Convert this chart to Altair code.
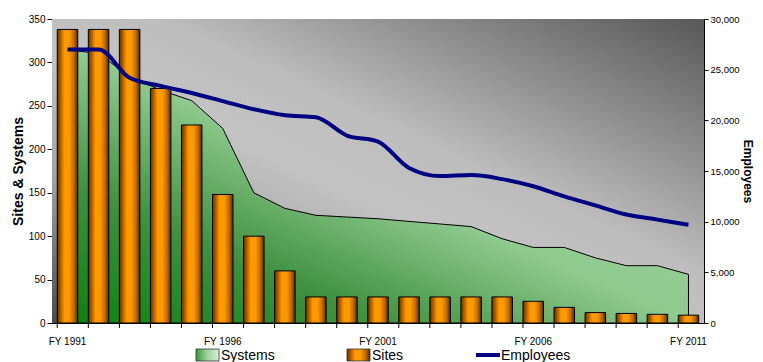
import altair as alt
import pandas as pd

years = ["FY 1991", "FY 1992", "FY 1993", "FY 1994", "FY 1995", "FY 1996", "FY 1997",
         "FY 1998", "FY 1999", "FY 2000", "FY 2001", "FY 2002", "FY 2003", "FY 2004",
         "FY 2005", "FY 2006", "FY 2007", "FY 2008", "FY 2009", "FY 2010", "FY 2011"]
sites = [338, 338, 338, 270, 228, 148, 100, 60, 30, 30, 30, 30, 30, 30, 30, 25, 18, 12, 11, 10, 9]
systems = [315, 310, 284, 268, 256, 224, 150, 132, 124, 122, 120, 117, 114, 111, 97, 87, 87, 75, 66, 66, 56]
employees = [27000, 27000, 24200, 23400, 22700, 21900, 21100, 20500, 20300, 18500, 17900,
             15300, 14500, 14600, 14200, 13500, 12500, 11600, 10700, 10200, 9700]
shown_years = ["FY 1991", "FY 1996", "FY 2001", "FY 2006", "FY 2011"]
left_ticks = [0, 50, 100, 150, 200, 250, 300, 350]
right_ticks = [0, 5000, 10000, 15000, 20000, 25000, 30000]
legend_labels = ["Systems", "Sites", "Employees"]

df = pd.DataFrame({"year": years, "Sites": sites, "Systems": systems, "Employees": employees})
legend_df = pd.DataFrame({"label": legend_labels})

W, H = 652, 304
FONT = "Liberation Sans"


def grad(stops, x1=0, y1=0, x2=1, y2=0):
    return {"gradient": "linear", "x1": x1, "y1": y1, "x2": x2, "y2": y2,
            "stops": [{"offset": o, "color": c} for o, c in stops]}


bg_grad = grad([(0, "#4a4a4a"), (0.25, "#a6a6a6"), (0.45, "#c3c3c3"), (0.58, "#bdbdbd"), (1, "#585858")],
               x1=0, y1=1, x2=1, y2=0)
area_grad = grad([(0, "#0c820c"), (0.25, "#3f903f"), (0.5, "#8ec98e"), (1, "#aadcaa")],
                 x1=0, y1=1, x2=1, y2=0)
bar_grad = grad([(0, "#5e3200"), (0.18, "#b86400"), (0.35, "#ff9900"), (0.58, "#ff9900"),
                 (0.82, "#c06800"), (1, "#4e2800")])
leg_area_grad = grad([(0, "#3c963c"), (0.5, "#9fd49f"), (1, "#d6efd6")])

label_expr = "indexof(" + str(shown_years) + ", datum.value) >= 0 ? datum.value : ''"

x_axis = alt.Axis(title=None, ticks=False, labelExpr=label_expr, labelAngle=0, labelOverlap=False,
                  labelFontSize=10, labelFont=FONT, labelColor="black", labelPadding=13,
                  domainColor="black", grid=False)
x_scale = alt.Scale(paddingInner=0.34, paddingOuter=0.17)
x_enc = alt.X("year:N", sort=years, axis=x_axis, scale=x_scale)

left_axis = alt.Axis(title="Sites & Systems", values=left_ticks, orient="left", grid=True,
                     gridColor="#9a9a9a", gridWidth=1, domainColor="black", tickColor="black",
                     labelFont=FONT, labelFontSize=10, labelColor="black", tickSize=5,
                     titleFont=FONT, titleFontSize=14, titleFontWeight="bold", titleColor="black",
                     titlePadding=3)
right_axis = alt.Axis(title="Employees", values=right_ticks, orient="right", grid=False,
                      labelExpr="format(datum.value, ',')",
                      domainColor="black", tickColor="black", labelFont=FONT, labelFontSize=9.5,
                      labelColor="black", tickSize=4, labelPadding=2, titleFont=FONT, titleFontSize=12,
                      titleFontWeight="bold", titleColor="black", titlePadding=1)

left_scale = alt.Scale(domain=[0, 350], nice=False)

background = alt.Chart(legend_df).transform_filter(alt.datum.label == "Systems").mark_rect(
    fill=bg_grad).encode(x=alt.value(0), x2=alt.value(W), y=alt.value(0), y2=alt.value(H))

area = alt.Chart(df).mark_area(fill=area_grad, stroke="black", strokeWidth=1, opacity=1).encode(
    x=x_enc, y=alt.Y("Systems:Q", scale=left_scale, axis=left_axis))
bars = alt.Chart(df).mark_bar(fill=bar_grad, stroke="black", strokeWidth=1).encode(
    x=x_enc, y=alt.Y("Sites:Q", scale=left_scale, axis=left_axis))
xticks = alt.Chart(df).mark_rule(color="black", strokeWidth=1).encode(
    x=alt.X("year:N", sort=years, axis=x_axis, bandPosition=0, scale=x_scale),
    y=alt.value(H), y2=alt.value(H + 5))
left = alt.layer(area, bars, xticks)

line = alt.Chart(df).mark_line(color="#000080", strokeWidth=4, interpolate="monotone").encode(
    x=x_enc, y=alt.Y("Employees:Q", scale=alt.Scale(domain=[0, 30000], nice=False), axis=right_axis))

LY = 336
leg_sys_rect = alt.Chart(legend_df).transform_filter(alt.datum.label == "Systems").mark_rect(
    fill=leg_area_grad, stroke="#333333", strokeWidth=0.8).encode(
    x=alt.value(144), x2=alt.value(167), y=alt.value(LY - 6), y2=alt.value(LY + 6))
leg_site_rect = alt.Chart(legend_df).transform_filter(alt.datum.label == "Sites").mark_rect(
    fill=bar_grad, stroke="#333333", strokeWidth=0.8).encode(
    x=alt.value(295), x2=alt.value(318), y=alt.value(LY - 6), y2=alt.value(LY + 6))
leg_emp_line = alt.Chart(legend_df).transform_filter(alt.datum.label == "Employees").mark_rule(
    color="#000080", strokeWidth=4).encode(
    x=alt.value(424), x2=alt.value(448), y=alt.value(LY))


def leg_text(name, xpos):
    return alt.Chart(legend_df).transform_filter(alt.datum.label == name).mark_text(
        align="left", baseline="middle", font=FONT, fontSize=14, color="black").encode(
        x=alt.value(xpos), y=alt.value(LY + 1), text="label:N")


chart = alt.layer(
    background, left, line,
    leg_sys_rect, leg_site_rect, leg_emp_line,
    leg_text("Systems", 169), leg_text("Sites", 320), leg_text("Employees", 449),
).resolve_scale(y="independent").properties(
    width=W, height=H,
    padding={"left": 44, "top": 11, "right": 51, "bottom": 39},
    autosize=alt.AutoSizeParams(type="none"),
    background="white",
).configure_view(stroke="#a8a8a8", strokeWidth=1)

chart.save("out.html", embed_options={"renderer": "svg", "actions": False})
